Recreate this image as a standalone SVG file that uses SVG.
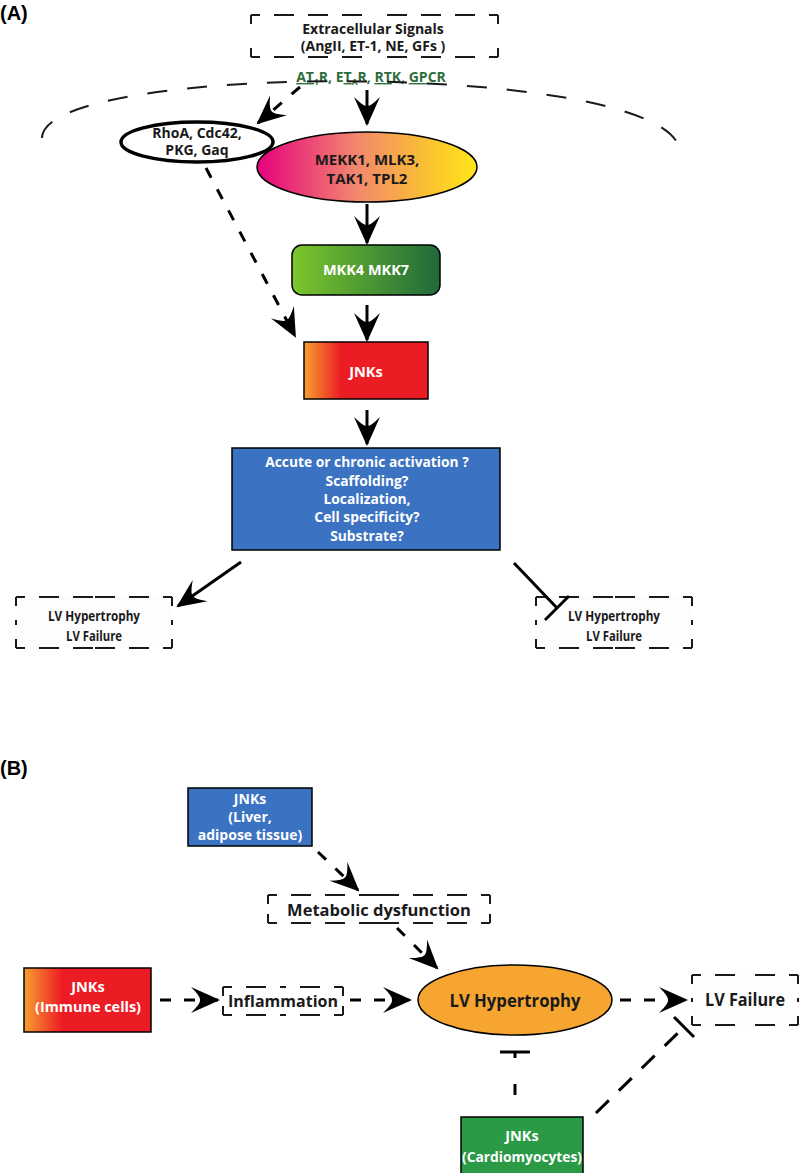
<svg xmlns="http://www.w3.org/2000/svg" width="800" height="1173" viewBox="0 0 800 1173">
<style>
.t{font-family:"Open Sans","DejaVu Sans",sans-serif;font-weight:700;text-anchor:middle}
.w{fill:#fff}
.k{fill:#1a1a1a}
.lab{font-family:"Liberation Sans",Arial,sans-serif;font-weight:700;font-size:20px;fill:#000}
.dbox{fill:none;stroke:#1a1a1a;stroke-width:2;stroke-dasharray:9 14 20 14 20 14 20 14 20 14 20 14 20 14}
.solid{fill:none;stroke:#000;stroke-width:3;marker-end:url(#ah)}
.dash{fill:none;stroke:#000;stroke-width:3;stroke-dasharray:11 13;marker-end:url(#ah)}
.inh{fill:none;stroke:#000;stroke-width:3}
</style>
<defs>
<marker id="ah" viewBox="-32 -15 34 30" refX="-2" refY="0" markerWidth="34" markerHeight="30" markerUnits="userSpaceOnUse" orient="auto">
<path d="M0,0 L-29,-13 Q-19,-3 -20,0 Q-19,3 -29,13 Z" fill="#000"/>
</marker>
<linearGradient id="gMek" x1="0" x2="1" y1="0" y2="0">
<stop offset="0" stop-color="#e6007e"/><stop offset="0.45" stop-color="#f2876f"/><stop offset="0.8" stop-color="#fbc52c"/><stop offset="1" stop-color="#ffe61a"/>
</linearGradient>
<linearGradient id="gMkk" x1="0" x2="1" y1="0" y2="0">
<stop offset="0" stop-color="#7cc62c"/><stop offset="1" stop-color="#1f6a3a"/>
</linearGradient>
<linearGradient id="gJnk" x1="0" x2="1" y1="0" y2="0">
<stop offset="0" stop-color="#f7a030"/><stop offset="0.3" stop-color="#ec1c24"/><stop offset="1" stop-color="#ec1c24"/>
</linearGradient>
</defs>

<text class="lab" x="0" y="20">(A)</text>
<text class="lab" x="0" y="775">(B)</text>

<g id="extracellular">
<rect x="251" y="15" width="247" height="42" fill="#fff"/>
<path class="dbox" d="M251,15 H374.5 M498,15 H374.5 M251,57 H374.5 M498,57 H374.5 M251,15 V36 M251,57 V36 M498,15 V36 M498,57 V36"/>
<text class="t k" x="373" y="34" font-size="14">Extracellular Signals</text>
<text class="t k" x="373" y="51" font-size="14">(AngII, ET-1, NE, GFs )</text>
</g>

<g id="receptors">
<text class="t" x="371" y="82" font-size="14" fill="#2e6e3c"><tspan text-decoration="underline">AT</tspan><tspan font-size="8.5" dy="3">1</tspan><tspan dy="-3">R, E</tspan><tspan text-decoration="underline">T</tspan><tspan font-size="8.5" dy="3">A</tspan><tspan dy="-3">R, </tspan><tspan text-decoration="underline">RT</tspan>K, <tspan text-decoration="underline">GP</tspan>CR</text>
</g>

<g id="rhoa">
<ellipse cx="197" cy="142" rx="76" ry="20" fill="#fff" stroke="#000" stroke-width="3.5"/>
<text class="t k" x="197" y="138" font-size="14">RhoA, Cdc42,</text>
<text class="t k" x="197" y="155" font-size="14">PKG, Gaq</text>
</g>

<g id="mekk">
<ellipse cx="367" cy="167" rx="110" ry="35" fill="url(#gMek)" stroke="#000" stroke-width="1.5"/>
<text class="t k" x="367" y="165" font-size="15">MEKK1, MLK3,</text>
<text class="t k" x="367" y="184" font-size="15">TAK1, TPL2</text>
</g>

<g id="mkk">
<rect x="292" y="245" width="148" height="50" rx="10" fill="url(#gMkk)" stroke="#000" stroke-width="1.5"/>
<text class="t w" x="366" y="275" font-size="14.5">MKK4 MKK7</text>
</g>

<g id="jnks">
<rect x="304" y="342" width="124" height="57" fill="url(#gJnk)" stroke="#000" stroke-width="1.5"/>
<text class="t w" x="366" y="377" font-size="14.5">JNKs</text>
</g>

<g id="questions">
<rect x="232" y="448" width="268" height="102" fill="#3b72c2" stroke="#000" stroke-width="1.5"/>
<text class="t w" x="367" y="467" font-size="13.8">Accute or chronic activation ?</text>
<text class="t w" x="367" y="486" font-size="13.8">Scaffolding?</text>
<text class="t w" x="367" y="504" font-size="13.8">Localization,</text>
<text class="t w" x="367" y="522" font-size="13.8">Cell specificity?</text>
<text class="t w" x="367" y="541" font-size="13.8">Substrate?</text>
</g>

<g id="lv-left">
<rect x="16" y="597" width="156" height="51" fill="#fdfdfd"/>
<path class="dbox" d="M16,597 H94 M172,597 H94 M16,648 H94 M172,648 H94 M16,597 V622.5 M16,648 V622.5 M172,597 V622.5 M172,648 V622.5"/>
<text class="t k" x="94" y="621" font-size="13.5" textLength="92" lengthAdjust="spacingAndGlyphs">LV Hypertrophy</text>
<text class="t k" x="94" y="641" font-size="13.5" textLength="56" lengthAdjust="spacingAndGlyphs">LV Failure</text>
</g>

<g id="lv-right">
<rect x="536" y="597" width="156" height="51" fill="#fdfdfd"/>
<path class="dbox" d="M536,597 H614 M692,597 H614 M536,648 H614 M692,648 H614 M536,597 V622.5 M536,648 V622.5 M692,597 V622.5 M692,648 V622.5"/>
<text class="t k" x="614" y="621" font-size="13.5" textLength="92" lengthAdjust="spacingAndGlyphs">LV Hypertrophy</text>
<text class="t k" x="614" y="641" font-size="13.5" textLength="56" lengthAdjust="spacingAndGlyphs">LV Failure</text>
</g>

<g id="jnks-liver">
<rect x="188" y="788" width="124" height="58" fill="#3b72c2" stroke="#000" stroke-width="1.5"/>
<text class="t w" x="250" y="804" font-size="14">JNKs</text>
<text class="t w" x="250" y="822" font-size="14">(Liver,</text>
<text class="t w" x="250" y="840" font-size="14">adipose tissue)</text>
</g>

<g id="metabolic">
<rect x="268" y="895" width="222" height="28" fill="#fff"/>
<path class="dbox" d="M268,895 H379 M490,895 H379 M268,923 H379 M490,923 H379 M268,895 V909 M268,923 V909 M490,895 V909 M490,923 V909"/>
<text class="t k" x="379" y="916" font-size="16.5">Metabolic dysfunction</text>
</g>

<g id="jnks-immune">
<rect x="24" y="968" width="127" height="64" fill="url(#gJnk)" stroke="#000" stroke-width="1.5"/>
<text class="t w" x="88" y="992" font-size="14.5">JNKs</text>
<text class="t w" x="88" y="1012" font-size="14.5" textLength="106" lengthAdjust="spacingAndGlyphs">(Immune cells)</text>
</g>

<g id="inflammation">
<rect x="223" y="987" width="120" height="28" fill="#fff"/>
<path class="dbox" d="M223,987 H283 M343,987 H283 M223,1015 H283 M343,1015 H283 M223,987 V1001 M223,1015 V1001 M343,987 V1001 M343,1015 V1001"/>
<text class="t k" x="283" y="1007" font-size="16.5" textLength="110" lengthAdjust="spacingAndGlyphs">Inflammation</text>
</g>

<g id="lv-hypertrophy">
<ellipse cx="515" cy="1000" rx="97" ry="35" fill="#f6a630" stroke="#000" stroke-width="1.5"/>
<text class="t k" x="515" y="1007" font-size="18.5" textLength="131" lengthAdjust="spacingAndGlyphs">LV Hypertrophy</text>
</g>

<g id="lv-failure">
<rect x="692" y="975" width="106" height="50" fill="#fdfdfd"/>
<path class="dbox" d="M692,975 H745 M798,975 H745 M692,1025 H745 M798,1025 H745 M692,975 V1000 M692,1025 V1000 M798,975 V1000 M798,1025 V1000"/>
<text class="t k" x="745" y="1006" font-size="17.5" textLength="80" lengthAdjust="spacingAndGlyphs">LV Failure</text>
</g>

<g id="jnks-cardio">
<rect x="461" y="1117" width="122" height="62" fill="#2a9a47" stroke="#000" stroke-width="1.5"/>
<text class="t w" x="522" y="1141" font-size="14.5">JNKs</text>
<text class="t w" x="522" y="1162" font-size="14.5" textLength="120" lengthAdjust="spacingAndGlyphs">(Cardiomyocytes)</text>
</g>

<g id="connectors">
<path d="M42,138 C42,60 680,60 680,153" fill="none" stroke="#1a1a1a" stroke-width="2" stroke-dasharray="20 20"/>
<path class="dash" d="M300,87 L258,123"/>
<path class="solid" d="M367,90 L367,124"/>
<path class="solid" d="M367,204 L367,243"/>
<path class="solid" d="M367,305 L367,340"/>
<path class="dash" d="M206,168 L295,336"/>
<path class="solid" d="M367,410 L367,444"/>
<path class="solid" d="M241,562 L178,606"/>
<path class="inh" d="M514,563 L557,608 M545,620 L569,596"/>
<path class="dash" d="M318,852 L358,890"/>
<path class="dash" d="M397,928 L437,968"/>
<path class="dash" d="M160,1000 L218,1000"/>
<path class="dash" d="M350,1000 L410,1000"/>
<path class="dash" d="M620,1000 L686,1000"/>
<path class="inh" d="M500,1052 L530,1052"/>
<path class="inh" d="M515,1052 L515,1135" stroke-dasharray="6 26 11 60"/>
<path class="inh" d="M596,1113 L684,1027" stroke-dasharray="18 14"/>
<path class="inh" d="M674,1017 L694,1037"/>
</g>
</svg>
